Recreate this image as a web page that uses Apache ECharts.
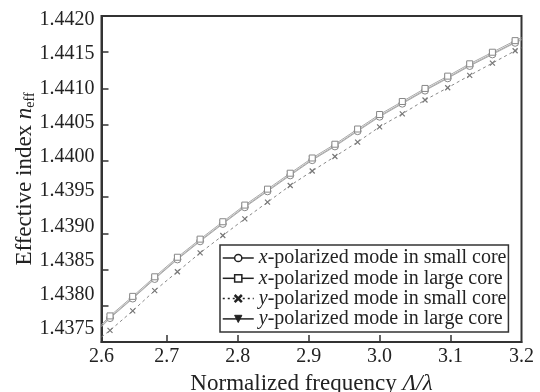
<!DOCTYPE html>
<html>
<head>
<meta charset="utf-8">
<script src="https://cdn.jsdelivr.net/npm/echarts@6/dist/echarts.min.js"></script>
<style>
html, body { margin: 0; padding: 0; background: #fff; }
#chart { width: 540px; height: 392px; }
</style>
</head>
<body>
<div id="chart"></div>
<script>
// normalized frequency (first and last entries are where the curves meet the frame)
var freq = [2.608, 2.620, 2.652, 2.683, 2.715, 2.747, 2.779, 2.810, 2.842, 2.874, 2.905,
  2.937, 2.969, 3.000, 3.032, 3.064, 3.096, 3.127, 3.159, 3.191, 3.200];

var xSmall = [1.43771, 1.43783, 1.43810, 1.43837, 1.43864, 1.43889, 1.43913, 1.43936, 1.43958, 1.43980,
  1.44001, 1.44020, 1.44041, 1.44061, 1.44079, 1.44097, 1.44114, 1.44131, 1.44147, 1.44163, 1.44167];
var xLarge = [1.43774, 1.43786, 1.43813, 1.43840, 1.43867, 1.43892, 1.43916, 1.43939, 1.43961, 1.43983,
  1.44004, 1.44023, 1.44044, 1.44064, 1.44082, 1.44100, 1.44117, 1.44134, 1.44150, 1.44166, 1.44170];
var ySmall = [1.43757, 1.43766, 1.43793, 1.43821, 1.43847, 1.43873, 1.43897, 1.43920, 1.43943, 1.43966,
  1.43986, 1.44006, 1.44026, 1.44047, 1.44065, 1.44084, 1.44101, 1.44118, 1.44135, 1.44152, 1.44156];
var yLarge = [1.43772, 1.43784, 1.43811, 1.43838, 1.43865, 1.43890, 1.43914, 1.43937, 1.43959, 1.43981,
  1.44002, 1.44021, 1.44042, 1.44062, 1.44080, 1.44098, 1.44115, 1.44132, 1.44148, 1.44164, 1.44168];

var names = ['x-polarized mode in small core', 'x-polarized mode in large core',
  'y-polarized mode in small core', 'y-polarized mode in large core'];

var xTicks = [2.7, 2.8, 2.9, 3.0, 3.1];
var xLabels = [2.608, 2.7, 2.8, 2.9, 3.0, 3.1, 3.2];

var serif = 'Liberation Serif';
var ink = '#222';
var crossPath = 'path://M0,0L10,10M10,0L0,10';

function pairs(ys) {
  var last = ys.length - 1;
  return ys.map(function (v, i) {
    // no marker where the curve is cut by the frame
    if (i === 0 || i === last) return { value: [freq[i], v], symbol: 'none' };
    return [freq[i], v];
  });
}

// y tick labels in the original drift upward relative to their ticks toward the bottom
var yLabelRich = {};
for (var k = 0; k < 10; k++) {
  var shift = Math.round(-4 + 1.9 * k);
  yLabelRich['s' + k] = {
    fontFamily: serif, fontSize: 20, color: ink,
    padding: shift > 0 ? [0, 0, 2 * shift, 0] : [-2 * shift, 0, 0, 0]
  };
}

var myChart = echarts.init(document.getElementById('chart'));

var option = {
  animation: false,
  backgroundColor: '#fff',
  grid: {
    left: 101.5, right: 18.5, top: 16, bottom: 50,
    outerBoundsMode: 'none',
    show: true, borderColor: '#333', borderWidth: 2
  },
  xAxis: {
    type: 'value',
    min: 2.608, max: 3.2,
    name: '{a|Normalized frequency }{g|Λ/λ}',
    nameLocation: 'middle',
    nameGap: 30,
    nameTextStyle: {
      rich: {
        a: { fontFamily: serif, fontSize: 23, color: ink },
        g: { fontFamily: serif, fontSize: 23, fontStyle: 'italic', color: ink }
      }
    },
    axisLine: { lineStyle: { color: '#333', width: 2 } },
    axisTick: { inside: true, length: 7, customValues: xTicks, lineStyle: { color: '#333', width: 1.5 } },
    axisLabel: {
      customValues: xLabels,
      margin: 5,
      fontFamily: serif, fontSize: 20, color: ink,
      formatter: function (v) { return v.toFixed(1); }
    },
    splitLine: { show: false }
  },
  yAxis: {
    type: 'value',
    min: 1.4375, max: 1.442, interval: 0.0005,
    name: '{a|Effective index }{n|n}{s|eff}',
    nameLocation: 'middle',
    nameRotate: 90,
    nameGap: 64,
    nameMoveOverlap: false,
    nameTextStyle: {
      rich: {
        a: { fontFamily: serif, fontSize: 23, color: ink },
        n: { fontFamily: serif, fontSize: 23, fontStyle: 'italic', color: ink },
        s: { fontFamily: serif, fontSize: 14, color: ink, padding: [12, 0, 0, 0] }
      }
    },
    axisLine: { lineStyle: { color: '#333', width: 2 } },
    axisTick: { inside: true, length: 7, lineStyle: { color: '#333', width: 1.5 } },
    axisLabel: {
      margin: 7,
      formatter: function (v) {
        var k = Math.round((1.442 - v) / 0.0005);
        return '{s' + k + '|' + v.toFixed(4) + '}';
      },
      rich: yLabelRich
    },
    splitLine: { show: false }
  },
  legend: {
    orient: 'vertical',
    left: 220, top: 245,
    padding: [3, 2, 3, 2],
    itemGap: 0.3,
    itemWidth: 31, itemHeight: 9,
    backgroundColor: '#fff',
    borderColor: '#333', borderWidth: 1.5, borderRadius: 0,
    formatter: function (name) {
      return '{i|' + name.charAt(0) + '}{t|' + name.slice(1) + '}';
    },
    textStyle: {
      lineHeight: 18,
      rich: {
        i: { fontFamily: serif, fontSize: 20, fontStyle: 'italic', color: ink, lineHeight: 18 },
        t: { fontFamily: serif, fontSize: 20, color: ink, lineHeight: 18 }
      }
    },
    data: [
      { name: names[0], itemStyle: { color: '#fff', borderColor: ink, borderWidth: 1.5 }, lineStyle: { color: ink, width: 1.5 } },
      { name: names[1], itemStyle: { color: '#fff', borderColor: ink, borderWidth: 1.5 }, lineStyle: { color: ink, width: 1.5 } },
      { name: names[2], itemStyle: { color: ink, borderColor: ink, borderWidth: 2.5 }, lineStyle: { color: ink, width: 1.5, type: [2, 3] } },
      { name: names[3], itemStyle: { color: ink, borderColor: ink, borderWidth: 1 }, lineStyle: { color: ink, width: 1.5 } }
    ]
  },
  series: [
    {
      name: names[3], type: 'line', data: pairs(yLarge),
      symbol: 'triangle', symbolRotate: 180, symbolSize: 6,
      itemStyle: { color: '#777', borderColor: '#777', borderWidth: 1 },
      lineStyle: { color: '#aaa', width: 1 }
    },
    {
      name: names[2], type: 'line', data: pairs(ySmall),
      symbol: crossPath, symbolSize: 5,
      itemStyle: { color: '#777', borderColor: '#777', borderWidth: 1.2 },
      lineStyle: { color: '#888', width: 1, type: [3, 3] }
    },
    {
      name: names[0], type: 'line', data: pairs(xSmall),
      symbol: 'circle', symbolSize: 7,
      itemStyle: { color: '#fff', borderColor: '#888', borderWidth: 1 },
      lineStyle: { color: '#aaa', width: 1 }
    },
    {
      name: names[1], type: 'line', data: pairs(xLarge),
      symbol: 'rect', symbolSize: 6,
      itemStyle: { color: '#fff', borderColor: '#888', borderWidth: 1 },
      lineStyle: { color: '#aaa', width: 1 }
    }
  ]
};

myChart.setOption(option);
</script>
</body>
</html>
